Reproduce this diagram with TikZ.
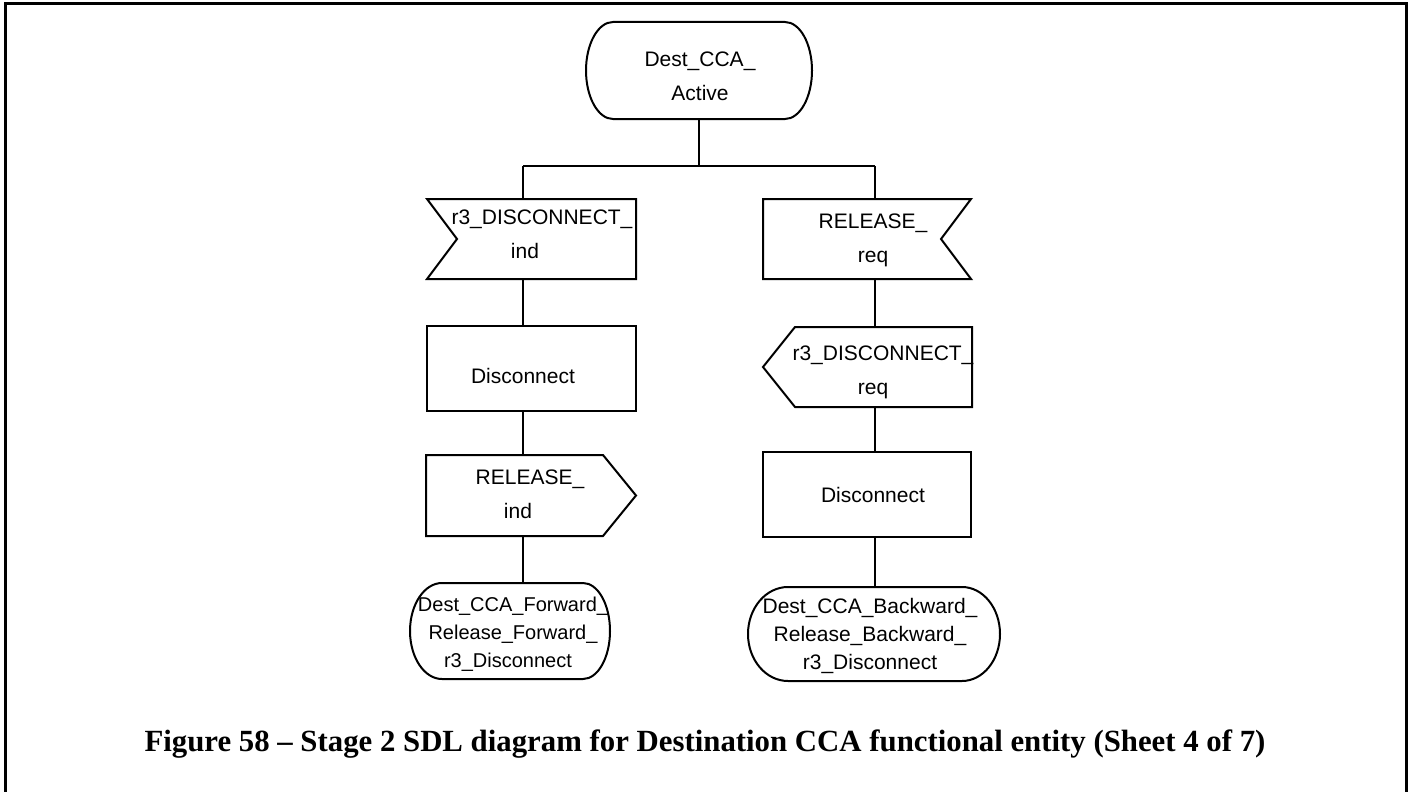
\documentclass[tikz,border=0pt]{standalone}
\usepackage{fontspec}
\setmainfont{Liberation Serif}
\newfontfamily\arialf{Liberation Sans}
\begin{document}
\begin{tikzpicture}[x=1pt,y=-1pt,
  ln/.style={line width=2pt, line join=miter},
  geo/.style={draw=none, inner sep=0, outer sep=0, minimum width=#1},
  txt/.style={font=\arialf\fontsize{21}{34}\selectfont, align=center, inner sep=0},
  txte/.style={font=\arialf\fontsize{21}{28}\selectfont, align=center, inner sep=0}]
\useasboundingbox (0,0) rectangle (1414,792);
% frame
\draw[line width=3pt] (5,795) -- (5,4) -- (1406,4) -- (1406,795);

% geometry of the symbols
\node[geo=226pt, minimum height=97pt] (start) at (699,70.5) {};
\node[geo=209pt, minimum height=80pt] (in1) at (531.5,239) {};
\node[geo=208pt, minimum height=80pt] (in2) at (867,239) {};
\node[geo=209pt, minimum height=85pt] (task1) at (531.5,368.5) {};
\node[geo=209pt, minimum height=80pt] (out2) at (867.5,367) {};
\node[geo=210pt, minimum height=81pt] (out1) at (531,495.5) {};
\node[geo=208pt, minimum height=85pt] (task2) at (867,494.5) {};
\node[geo=200pt, minimum height=96pt] (end1) at (510,631) {};
\node[geo=252pt, minimum height=94pt] (end2) at (874,634) {};

% start symbol
\draw[ln] ([xshift=27pt]start.north west) -- ([xshift=-27pt]start.north east)
  arc[start angle=90, end angle=-90, x radius=27pt, y radius=48.5pt]
  -- ([xshift=27pt]start.south west)
  arc[start angle=270, end angle=90, x radius=27pt, y radius=48.5pt] -- cycle;
% inputs
\draw[ln] (in1.north west) -- (in1.north east) -- (in1.south east) -- (in1.south west)
  -- ([xshift=30pt]in1.west) -- cycle;
\draw[ln] (in2.north west) -- (in2.north east) -- ([xshift=-30pt]in2.east)
  -- (in2.south east) -- (in2.south west) -- cycle;
% tasks
\draw[ln] (task1.north west) rectangle (task1.south east);
\draw[ln] (task2.north west) rectangle (task2.south east);
% outputs
\draw[ln] ([xshift=32pt]out2.north west) -- (out2.north east) -- (out2.south east)
  -- ([xshift=32pt]out2.south west) -- (out2.west) -- cycle;
\draw[ln] (out1.north west) -- ([xshift=-33pt]out1.north east) -- (out1.east)
  -- ([xshift=-33pt]out1.south east) -- (out1.south west) -- cycle;
% end states
\draw[ln] ([xshift=32pt]end1.north west) -- ([xshift=-27pt]end1.north east)
  arc[start angle=90, end angle=-90, x radius=27pt, y radius=48pt]
  -- ([xshift=32pt]end1.south west)
  arc[start angle=270, end angle=90, x radius=32pt, y radius=48pt] -- cycle;
\draw[ln] ([xshift=40pt]end2.north west) -- ([xshift=-38pt]end2.north east)
  arc[start angle=90, end angle=-90, x radius=38pt, y radius=47pt]
  -- ([xshift=40pt]end2.south west)
  arc[start angle=270, end angle=90, x radius=40pt, y radius=47pt] -- cycle;

% connectors
\coordinate (jn) at (699,166);
\coordinate (jl) at (523,166);
\coordinate (jr) at (875,166);
\draw[ln] (start.south) -- (jn);
\draw[ln] (jl) -- (jr);
\draw[ln] (jl) -- (jl |- in1.north);
\draw[ln] (jl |- in1.south) -- (jl |- task1.north);
\draw[ln] (jl |- task1.south) -- (jl |- out1.north);
\draw[ln] (jl |- out1.south) -- (jl |- end1.north);
\draw[ln] (jr) -- (jr |- in2.north);
\draw[ln] (jr |- in2.south) -- (jr |- out2.north);
\draw[ln] (jr |- out2.south) -- (jr |- task2.north);
\draw[ln] (jr |- task2.south) -- (jr |- end2.north);

% texts
\node[txt] (tstart) at (700,76) {Dest\_CCA\_\\Active};
\node[txt] (tin1) at (542,234) {r3\_DISCONNECT\_\\ind\hspace*{34pt}};
\node[txt] (tin2) at (873,240) {RELEASE\_\\req};
\node[txt] (ttask1) at (523,376) {Disconnect};
\node[txt] (tout2) at (883,372) {r3\_DISCONNECT\_\\req\hspace*{20pt}};
\node[txt] (tout1) at (530,494) {RELEASE\_\\ind\hspace*{24pt}};
\node[txt] (ttask2) at (873,495) {Disconnect};
\node[txte, font=\arialf\fontsize{20}{28}\selectfont] (tend1) at (513,634) {Dest\_CCA\_Forward\_\\Release\_Forward\_\\r3\_Disconnect\hspace*{10pt}};
\node[txte] (tend2) at (870,636) {Dest\_CCA\_Backward\_\\Release\_Backward\_\\r3\_Disconnect};

% caption
\node[font=\bfseries\fontsize{30.8}{36}\selectfont, inner sep=0] (cap) at (705,744)
  {Figure 58 \textendash{} Stage 2 SDL diagram for Destination CCA functional entity (Sheet 4 of 7)};
\end{tikzpicture}
\end{document}
